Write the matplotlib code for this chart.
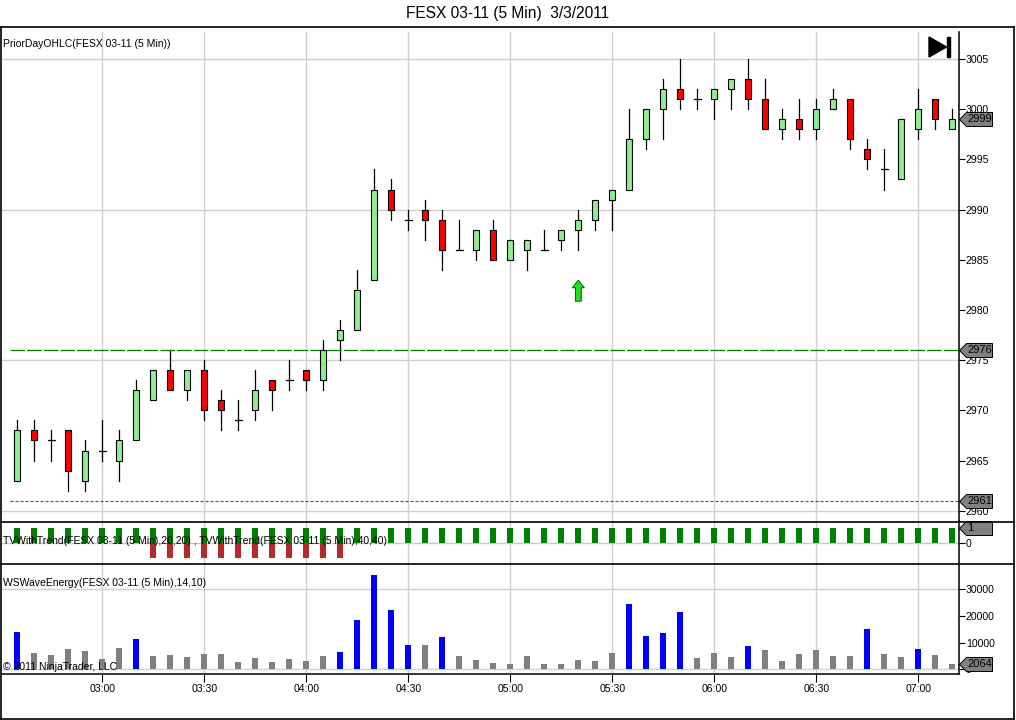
import matplotlib
matplotlib.use("Agg")
import matplotlib.pyplot as plt
import pandas as pd
from matplotlib.lines import Line2D
from matplotlib.patches import Polygon, Rectangle
from matplotlib.path import Path

plt.rcParams['font.family'] = ['Liberation Sans', 'DejaVu Sans']
plt.rcParams['lines.scale_dashes'] = False

# 5 minute bars, FESX 03-11, 3/3/2011
bar_times = pd.date_range('2011-03-03 02:35', periods=56, freq='5min')

opens = [2963, 2968, 2967, 2968, 2963, 2966, 2965, 2967, 2971, 2974,
         2972, 2974, 2971, 2969, 2970, 2973, 2973, 2974, 2973, 2977,
         2978, 2983, 2992, 2989, 2990, 2989, 2986, 2986, 2988, 2985,
         2986, 2986, 2987, 2988, 2989, 2991, 2992, 2997, 3000, 3002,
         3001, 3001, 3002, 3003, 3001, 2998, 2999, 2998, 3000, 3001,
         2996, 2994, 2993, 2998, 3001, 2998]
highs = [2969, 2969, 2968, 2968, 2967, 2969, 2968, 2973, 2974, 2976,
         2974, 2975, 2972, 2971, 2974, 2973, 2975, 2974, 2977, 2979,
         2984, 2994, 2993, 2990, 2991, 2990, 2989, 2988, 2989, 2987,
         2987, 2988, 2988, 2990, 2991, 2992, 3000, 3000, 3003, 3005,
         3002, 3002, 3003, 3005, 3003, 3000, 3001, 3001, 3002, 3001,
         2997, 2996, 2999, 3002, 3001, 3000]
lows = [2963, 2965, 2965, 2962, 2962, 2965, 2963, 2967, 2971, 2972,
        2971, 2969, 2968, 2968, 2969, 2970, 2972, 2972, 2972, 2975,
        2978, 2983, 2989, 2988, 2987, 2984, 2986, 2985, 2985, 2985,
        2984, 2986, 2986, 2986, 2988, 2988, 2992, 2996, 2997, 3000,
        3000, 2999, 3000, 3000, 2998, 2997, 2997, 2997, 3000, 2996,
        2994, 2992, 2993, 2997, 2998, 2998]
closes = [2968, 2967, 2967, 2964, 2966, 2966, 2967, 2972, 2974, 2972,
          2974, 2970, 2970, 2969, 2972, 2972, 2973, 2973, 2976, 2978,
          2982, 2992, 2990, 2989, 2989, 2986, 2986, 2988, 2985, 2987,
          2987, 2986, 2988, 2989, 2991, 2992, 2997, 3000, 3002, 3001,
          3001, 3002, 3003, 3001, 2998, 2999, 2998, 3000, 3001, 2997,
          2995, 2994, 2999, 3000, 2999, 2999]

prior_high = 2976
prior_low = 2961
signal_bar = 33
signal_price = 2981

# TVWithTrend(20,20) and TVWithTrend(40,40)
trend_20 = [1] * 56
trend_40 = [0] * 8 + [-1] * 12 + [0] * 36

# WSWaveEnergy(14,10)
energy = [14100, 6250, 5500, 7400, 7000, 4000, 8100, 11500, 5100, 5500,
          4750, 5900, 5900, 2900, 4400, 2900, 4000, 3250, 5100, 6600,
          18600, 35100, 22000, 9250, 8900, 11900, 5100, 3600, 2500, 2000,
          5000, 2000, 2000, 3500, 3100, 6100, 24500, 12500, 13600, 21500,
          4300, 6100, 4600, 8700, 7300, 3100, 5700, 7300, 5000, 5000,
          15100, 5700, 4600, 7700, 5400, 2064]
energy_strong = [1, 0, 0, 0, 0, 0, 0, 1, 0, 0,
                 0, 0, 0, 0, 0, 0, 0, 0, 0, 1,
                 1, 1, 1, 1, 0, 1, 0, 0, 0, 0,
                 0, 0, 0, 0, 0, 0, 1, 1, 1, 1,
                 0, 0, 0, 1, 0, 0, 0, 0, 0, 0,
                 1, 0, 0, 1, 0, 0]

price_ticks = list(range(2960, 3006, 5))
energy_ticks = [0, 10000, 20000, 30000]

W, H = 1016, 720
fig = plt.figure(figsize=(W / 100, H / 100), dpi=100)


def fpos(x0, y0, x1, y1):
    return [x0 / W, 1 - y1 / H, (x1 - x0) / W, (y1 - y0) / H]


def fline(x0, x1, y0, y1):
    fig.add_artist(Line2D([x0 / W, x1 / W], [1 - y0 / H, 1 - y1 / H],
                          transform=fig.transFigure, color='black', lw=1.2))


ax1 = fig.add_axes(fpos(2, 32, 959, 521))
ax2 = fig.add_axes(fpos(2, 521.5, 959, 564))
ax3 = fig.add_axes(fpos(2, 564, 959, 674))

n = len(closes)
xs = list(range(n))
grid_bars = [i for i, t in enumerate(bar_times) if t.minute % 30 == 0]
grid_labels = [bar_times[i].strftime('%H:%M') for i in grid_bars]

for ax in (ax1, ax2, ax3):
    ax.set_xlim(-0.9, 55.39)
    for s in ('top', 'bottom', 'left'):
        ax.spines[s].set_visible(False)
    ax.spines['right'].set_linewidth(1.1)
    ax.yaxis.tick_right()
    ax.tick_params(axis='y', length=4, width=0.8, pad=1, labelsize=7.6, colors='black')
    ax.set_xticks(grid_bars)
    ax.tick_params(axis='x', length=0, labelbottom=False)
    for gx in grid_bars:
        ax.axvline(gx, color='#cfcfcf', lw=1, zorder=0)


def price_tag(ax, y, text):
    verts = [(0, 0), (7, 7), (33, 7), (33, -7), (7, -7), (0, 0)]
    marker = Path(verts)
    ax.plot([1.0], [y], marker=marker, markersize=47.5, color='#808080',
            markeredgecolor='black', markeredgewidth=0.7,
            transform=ax.get_yaxis_transform(), clip_on=False, zorder=6)
    ax.text(1.0085, y, text, transform=ax.get_yaxis_transform(), ha='left',
            va='center', fontsize=8, color='black', clip_on=False, zorder=7)


# --- price panel ---
ax1.set_ylim(2958.98, 3007.69)
ax1.set_yticks(price_ticks)
for gy in (2960, 2975, 2990, 3005):
    ax1.axhline(gy, color='#cfcfcf', lw=1, zorder=0)

body_w = 0.34
for i in xs:
    o, h, l, c = opens[i], highs[i], lows[i], closes[i]
    ax1.plot([i, i], [l, h], color='black', lw=0.9, zorder=2)
    if c == o:
        ax1.plot([i - body_w / 2 - 0.03, i + body_w / 2 + 0.03], [c, c], color='black', lw=0.9, zorder=3)
    else:
        col = '#90ee90' if c > o else '#ff0000'
        ax1.add_patch(Rectangle((i - body_w / 2, min(o, c)), body_w, abs(c - o),
                                facecolor=col, edgecolor='black', lw=0.8, zorder=3))

ax1.plot([-0.45, 55.39], [prior_high, prior_high], color='#007a00', lw=0.9,
         dashes=(10.5, 1.5), zorder=2)
ax1.plot([-0.45, 55.39], [prior_low, prior_low], color='#a02828', lw=0.8,
         dashes=(2.2, 1.4), zorder=2)

ax1.annotate('', xy=(signal_bar, signal_price + 2.25), xytext=(signal_bar, signal_price - 0.4),
             arrowprops=dict(arrowstyle='simple,head_width=0.85,head_length=0.55,tail_width=0.42',
                             fc='#22dd22', ec='#006000', lw=0.7), zorder=4)

ax1.text(0.001, 0.985, 'PriorDayOHLC(FESX 03-11 (5 Min))', transform=ax1.transAxes,
         ha='left', va='top', fontsize=7.5)

price_tag(ax1, closes[-1], str(closes[-1]))
price_tag(ax1, prior_high, str(prior_high))
price_tag(ax1, prior_low, str(prior_low))

# --- trend panel ---
ax2.set_ylim(-1.38, 1.45)
ax2.set_yticks([0])
ax2.axhline(0, color='#c8c8c8', lw=1, zorder=0)
ax2.bar(xs, trend_20, width=0.35, color='#008000', zorder=2)
ax2.bar(xs, trend_40, width=0.35, color='#b52a2a', zorder=2)
ax2.text(0.001, 0.55, 'TVWithTrend(FESX 03-11 (5 Min),20,20) , TVWithTrend(FESX 03-11 (5 Min),40,40)',
         transform=ax2.transAxes, ha='left', va='center', fontsize=7.5, zorder=5)
price_tag(ax2, trend_20[-1], str(trend_20[-1]))

# --- wave energy panel ---
ax3.set_ylim(-1756, 39335)
ax3.set_yticks(energy_ticks)
ax3.set_yticklabels([str(v) for v in energy_ticks])
for gy in (0, 30000):
    ax3.axhline(gy, color='#cfcfcf', lw=1, zorder=0)
ax3.bar(xs, energy, width=0.35, zorder=2,
        color=['#0000ff' if s else '#808080' for s in energy_strong])
ax3.text(0.001, 0.83, 'WSWaveEnergy(FESX 03-11 (5 Min),14,10)', transform=ax3.transAxes,
         ha='left', va='center', fontsize=7.5)
ax3.text(0.001, 0.06, '\u00a9 2011 NinjaTrader, LLC', transform=ax3.transAxes,
         ha='left', va='center', fontsize=7.5, zorder=5)
price_tag(ax3, energy[-1], str(energy[-1]))

ax3.tick_params(axis='x', length=6, width=0.8, direction='out', labelbottom=True,
                labelsize=7.6, pad=1)
ax3.set_xticklabels(grid_labels)
ax3.spines['bottom'].set_visible(True)
ax3.spines['bottom'].set_linewidth(1.1)

# frame lines
fline(1, 1014, 27, 27)
fline(1, 1014, 521.5, 521.5)
fline(1, 1014, 564, 564)
fline(1, 1, 27, 719)
fline(1014, 1014, 27, 719)
fline(1, 1014, 719, 719)

# end-of-chart icon
fig.add_artist(Polygon([(929 / W, 1 - 37 / H), (929 / W, 1 - 57 / H), (946.5 / W, 1 - 47 / H)],
                       closed=True, transform=fig.transFigure, color='black'))
fig.add_artist(Rectangle((946.7 / W, 1 - 57 / H), 3.3 / W, 20 / H,
                         transform=fig.transFigure, color='black'))

fig.text(0.5, 1 - 13.5 / H, 'FESX 03-11 (5 Min)  3/3/2011', ha='center', va='center', fontsize=11.2)

fig.savefig('out.png', dpi=100)
